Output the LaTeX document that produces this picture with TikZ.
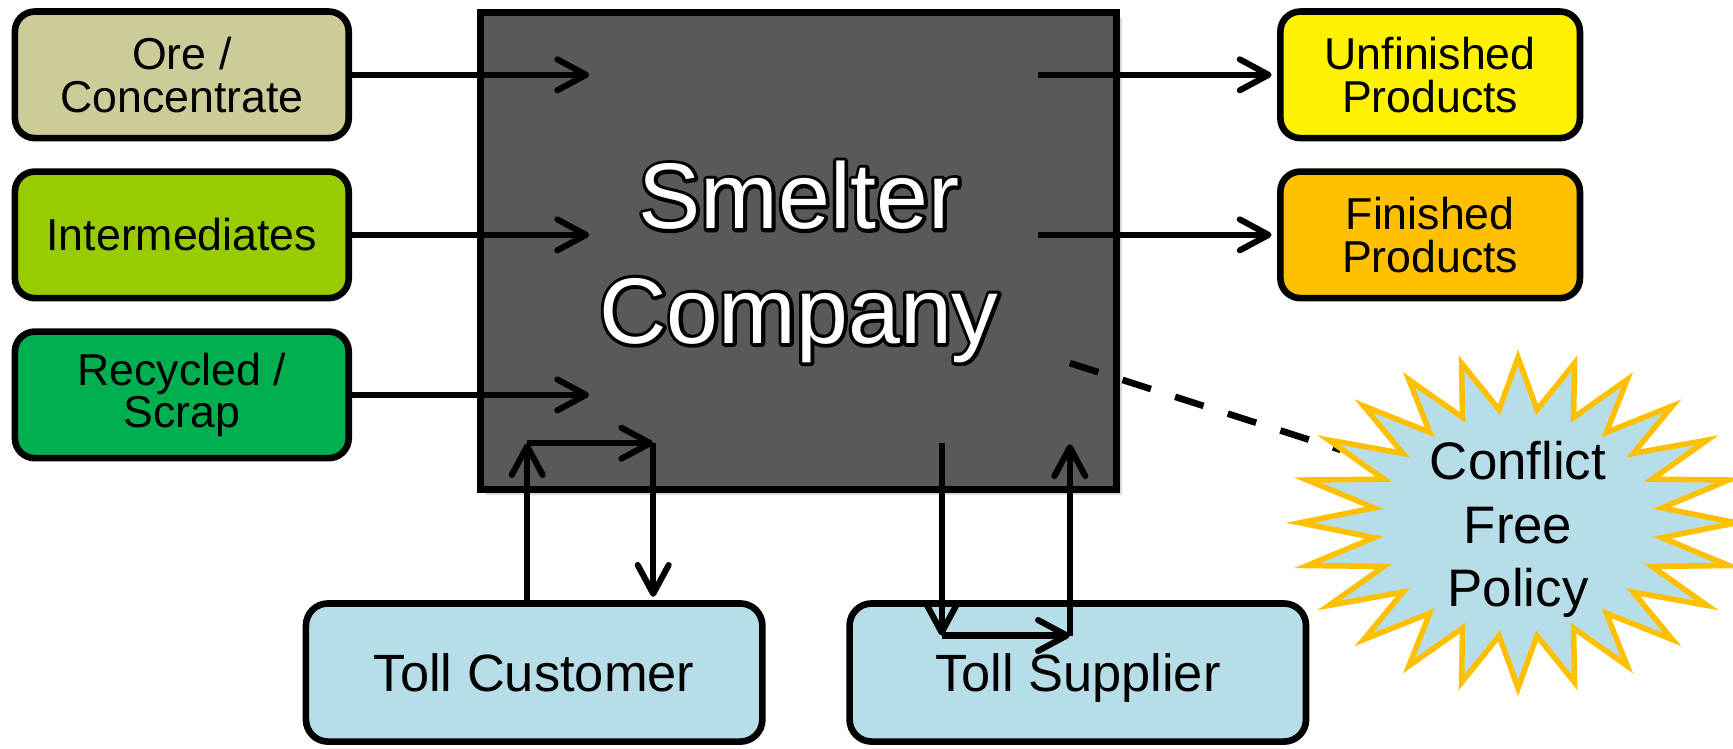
\documentclass[tikz,border=0pt]{standalone}
\usepackage{fontspec}
\setmainfont{Liberation Sans}
\usetikzlibrary{arrows.meta,shadows}

\definecolor{oreTan}{HTML}{CCCC99}
\definecolor{interGreen}{HTML}{99CC00}
\definecolor{scrapGreen}{HTML}{00B050}
\definecolor{smelterGray}{HTML}{595959}
\definecolor{finOrange}{HTML}{FFC000}
\definecolor{tollBlue}{HTML}{B7DEE8}

% stroked (outline) text for the rim behind the white title
\newcommand{\strokeon}{\special{pdf:literal direct 1 Tr 1.8 w 0 G 1 j}}
\newcommand{\strokeoff}{\special{pdf:literal direct 0 Tr}}

\tikzset{
  srcbox/.style={draw, line width=0.6mm, rounded corners=1.8mm, inner sep=0pt,
    minimum width=30.2mm, minimum height=11.45mm, align=center,
    font=\fontsize{11.5}{11}\selectfont},
  prodbox/.style={srcbox, minimum width=27.1mm},
  tollbox/.style={srcbox, fill=tollBlue, minimum width=41.3mm, minimum height=12.5mm,
    rounded corners=2mm, text depth=0pt, font=\fontsize{13.5}{16}\selectfont},
  mainbox/.style={draw, line width=0.6mm, fill=smelterGray, minimum width=57.5mm,
    minimum height=43.15mm,
    drop shadow={shadow xshift=0.5mm, shadow yshift=-0.5mm, opacity=0.3}},
  bigtext/.style={text=white, align=center, inner sep=0pt,
    font=\fontsize{24}{29.5}\selectfont},
  startext/.style={align=center, inner sep=0pt, text depth=0pt,
    font=\fontsize{13.6}{16.3}\selectfont},
  flow/.style={line width=0.55mm, -{Straight Barb[round, length=2.6mm, width=2.8mm]}},
  policylink/.style={line width=0.6mm, dash pattern=on 2.7mm off 2.3mm},
  policystar/.style={line width=0.5mm, draw=finOrange, fill=tollBlue, line join=miter},
}

\begin{document}
\begin{tikzpicture}[x=0.1mm, y=-0.1mm]
\useasboundingbox (0,0) rectangle (1568,676.8);

% smelter
\node[mainbox] (smelter) at (722.5,227.3) {};
\node[bigtext, text=black] (smelterRim) at (723,237) {\strokeon Smelter\\\strokeon Company\strokeoff};
\node[bigtext] (smelterText) at (723,237) {Smelter\\Company};

% inputs
\node[srcbox, fill=oreTan] (ore) at (164.5,67.7) {Ore /\\Concentrate};
\node[srcbox, fill=interGreen] (inter) at (164.5,212.5) {Intermediates};
\node[srcbox, fill=scrapGreen] (scrap) at (164.5,357.3) {Recycled /\\Scrap};

% outputs
\node[prodbox, fill=yellow] (unfin) at (1294,67.7) {Unfinished\\Products};
\node[prodbox, fill=finOrange] (fin) at (1294,212.5) {Finished\\Products};

% toll partners
\node[tollbox] (tcust) at (483.3,608.5) {Toll Customer};
\node[tollbox] (tsupp) at (975.2,608.5) {Toll Supplier};

\coordinate (inEnd) at (533,0);
\coordinate (outStart) at (939,0);
\foreach \src in {ore, inter, scrap}
    \draw[flow] (\src.east) -- (\src.east -| inEnd);
\foreach \dst in {unfin, fin}
    \draw[flow, shorten >=0.5mm] (\dst.west -| outStart) -- (\dst.west);

\coordinate (tcTurn) at (477,401);
\coordinate (tcBack) at (591,401);
\draw[flow] (tcust.north -| tcTurn) -- (tcTurn);
\draw[flow] (tcTurn) -- (tcBack);
\draw[flow, shorten >=0.3mm] (tcBack) -- (tcust.north -| tcBack);

\coordinate (tsDown) at (852,401);
\coordinate (tsTurn) at (852,575);
\coordinate (tsBack) at (968,575);
\coordinate (tsUp) at (968,402);
\draw[flow] (tsDown) -- (tsTurn);
\draw[flow] (tsTurn) -- (tsBack);
\draw[flow] (tsBack) -- (tsUp);

% policy
\coordinate (dashStart) at (968,328.5);
\coordinate (dashEnd) at (1213,407);
\draw[policylink] (dashStart) -- (dashEnd);
\draw[policystar] plot[samples at={0,...,47}, variable=\k]
    ({1373.5+197.5*(1-0.335*mod(\k,2))*cos(90+7.5*\k)},
     {473-149.5*(1-0.31*mod(\k,2))*sin(90+7.5*\k)}) -- cycle;
\node[startext] (policy) at (1373.5,474) {Conflict\\Free\\Policy};

\end{tikzpicture}
\end{document}
